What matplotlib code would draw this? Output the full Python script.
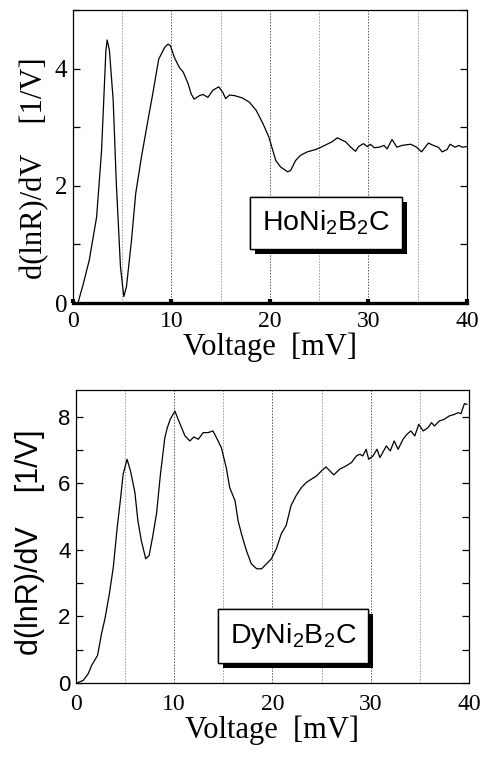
import matplotlib
matplotlib.use('Agg')
import matplotlib.pyplot as plt
import matplotlib.patheffects as pe
from matplotlib.ticker import MultipleLocator

# HoNi2B2C : voltage [mV], d(lnR)/dV [1/V]
ho_v = [0.0, 0.5, 1.05, 1.65, 2.4, 2.9, 3.34, 3.47, 3.7, 4.08, 4.4, 4.82, 5.16, 5.43,
        5.94, 6.37, 6.95, 7.6, 8.1, 8.7, 9.3, 9.65, 9.9, 10.3, 10.8, 11.2, 11.7, 12.0,
        12.3, 12.85, 13.2, 13.7, 14.2, 14.8, 15.2, 15.5, 15.9, 16.4, 17.2, 17.9, 18.6,
        19.3, 19.9, 20.3, 20.6, 21.1, 21.8, 22.1, 22.6, 23.1, 23.8, 24.65, 25.2, 25.8,
        26.3, 26.85, 27.2, 27.7, 28.2, 28.7, 29.0, 29.5, 29.9, 30.2, 30.6, 31.1, 31.6,
        31.9, 32.4, 32.9, 33.4, 34.3, 34.9, 35.4, 36.1, 36.6, 37.1, 37.5, 38.0, 38.3,
        38.8, 39.2, 39.5, 40.0]
ho_g = [0.0, 0.0, 0.33, 0.73, 1.47, 2.6, 4.31, 4.49, 4.31, 3.46, 2.04, 0.62, 0.11, 0.28,
        1.07, 1.87, 2.49, 3.11, 3.57, 4.16, 4.36, 4.42, 4.39, 4.19, 4.02, 3.94, 3.74, 3.57,
        3.48, 3.54, 3.56, 3.51, 3.63, 3.69, 3.6, 3.49, 3.55, 3.54, 3.5, 3.43, 3.29,
        3.06, 2.83, 2.6, 2.43, 2.32, 2.24, 2.26, 2.43, 2.52, 2.58, 2.62, 2.66, 2.71,
        2.75, 2.82, 2.79, 2.75, 2.66, 2.59, 2.67, 2.72, 2.67, 2.71, 2.65, 2.66, 2.69,
        2.63, 2.79, 2.66, 2.69, 2.71, 2.66, 2.58, 2.73, 2.69, 2.66, 2.58, 2.62, 2.71,
        2.66, 2.69, 2.66, 2.67]

# DyNi2B2C
dy_v = [0.1, 0.75, 1.25, 1.6, 2.2, 2.6, 2.95, 3.4, 3.8, 4.2, 4.55, 4.8, 5.2, 5.55, 6.0,
        6.3, 6.65, 7.1, 7.45, 7.8, 8.2, 8.6, 9.05, 9.3, 9.6, 10.07, 10.4, 10.75, 11.1,
        11.6, 12.0, 12.45, 12.95, 13.45, 13.95, 14.3, 14.8, 15.3, 15.65, 16.2, 16.5,
        16.85, 17.35, 17.85, 18.4, 18.9, 19.4, 19.9, 20.4, 20.9, 21.4, 21.9, 22.4,
        22.95, 23.45, 23.95, 24.5, 25.0, 25.45, 25.85, 26.25, 26.85, 27.5, 28.05,
        28.55, 28.9, 29.2, 29.55, 29.8, 30.25, 30.65, 30.95, 31.6, 32.0, 32.4, 32.8,
        33.3, 33.7, 34.1, 34.5, 34.9, 35.35, 35.85, 36.2, 36.5, 37.0, 37.5, 38.0,
        38.55, 38.9, 39.2, 39.55, 39.8]
dy_g = [0.0, 0.08, 0.28, 0.53, 0.83, 1.48, 1.93, 2.68, 3.48, 4.68, 5.57, 6.27, 6.72, 6.37,
        5.72, 4.88, 4.28, 3.73, 3.83, 4.38, 5.08, 6.27, 7.37, 7.67, 7.92, 8.17, 7.92, 7.67,
        7.42, 7.27, 7.39, 7.32, 7.52, 7.52, 7.57, 7.37, 7.07, 6.47, 5.87, 5.47, 4.88,
        4.48, 3.98, 3.58, 3.43, 3.43, 3.58, 3.73, 4.03, 4.48, 4.73, 5.33, 5.62,
        5.87, 6.02, 6.12, 6.22, 6.37, 6.49, 6.37, 6.25, 6.42, 6.52, 6.62,
        6.82, 6.87, 6.82, 7.02, 6.72, 6.82, 7.02, 6.77, 7.12, 6.97, 7.27, 7.02,
        7.32, 7.47, 7.57, 7.42, 7.77, 7.57, 7.67, 7.82, 7.72, 7.87, 7.92, 8.02,
        8.07, 8.12, 8.09, 8.39, 8.37]

x_ticks = [0, 10, 20, 30, 40]
grid_x = [5, 10, 15, 20, 25, 30, 35]

serif = 'Liberation Serif'
sans = 'Liberation Sans'

fig = plt.figure(figsize=(4.88, 7.57), dpi=100)
ax1 = fig.add_axes([0.1496, 0.5997, 0.807, 0.387])
ax2 = fig.add_axes([0.1557, 0.0978, 0.805, 0.387])


def label_box(ax, text, x, y):
    t = ax.text(x, y, text, transform=ax.transAxes, ha='center', va='center',
                family=sans, fontsize=20.5,
                bbox=dict(boxstyle='square,pad=0.42', fc='white', ec='black', lw=1.0))
    t.get_bbox_patch().set_path_effects([
        pe.withSimplePatchShadow(offset=(3.5, -3.5), shadow_rgbFace='black', alpha=1.0),
        pe.Normal()])


def setup(ax, ymax, ymajor, ytick_font, ytick_size, ylab_font, ylab_size):
    for x in grid_x:
        ax.axvline(x, color='0.35' if x % 10 == 0 else '0.6', lw=0.7,
                   ls=(0, (1.5, 1.5)), zorder=0)
    ax.set_xlim(0, 40)
    ax.set_ylim(0, ymax)
    ax.set_xticks(x_ticks)
    ax.yaxis.set_major_locator(MultipleLocator(ymajor))
    ax.yaxis.set_minor_locator(MultipleLocator(1))
    ax.tick_params(axis='y', which='both', direction='in', left=True, right=True,
                   length=5, width=0.9, pad=4)
    for lab in ax.get_yticklabels():
        lab.set_family(ytick_font)
        lab.set_fontsize(ytick_size)
    for lab in ax.get_xticklabels():
        lab.set_family(serif)
        lab.set_fontsize(17)
    ax.set_xlabel('Voltage  [mV]', family=serif, fontsize=22, labelpad=0)
    ax.set_ylabel('d(lnR)/dV    [1/V]', family=ylab_font, fontsize=ylab_size, labelpad=4)
    for s in ax.spines.values():
        s.set_linewidth(0.9)


# top panel
ax1.plot(ho_v, ho_g, color='black', lw=0.9)
setup(ax1, 5, 2, serif, 18, serif, 22)
ax1.spines['bottom'].set_linewidth(2.4)
ax1.tick_params(axis='x', direction='in', length=3, width=3, pad=6)
ax1.yaxis.set_label_coords(-0.06, 0.46)
label_box(ax1, r'HoNi$_\mathregular{2}$B$_\mathregular{2}$C', 0.643, 0.273)

# bottom panel
ax2.plot(dy_v, dy_g, color='black', lw=0.9)
setup(ax2, 8.8, 2, sans, 16, sans, 22)
ax2.tick_params(axis='x', length=0, pad=8)
ax2.yaxis.set_label_coords(-0.08, 0.48)
label_box(ax2, r'DyNi$_\mathregular{2}$B$_\mathregular{2}$C', 0.553, 0.159)

fig.savefig('out.png', dpi=100)
